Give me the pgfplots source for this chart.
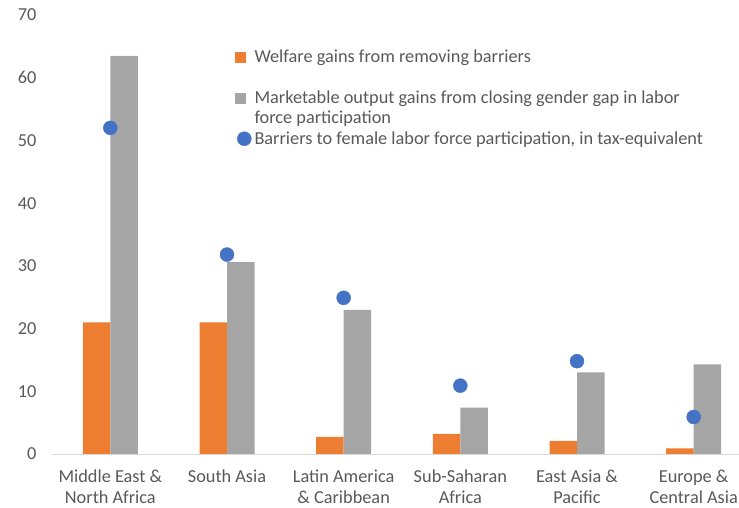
\documentclass[border=0pt]{standalone}
\usepackage{fontspec}
\setmainfont{Carlito}
\usepackage{pgfplots}
\pgfplotsset{compat=1.18}
\definecolor{cOrange}{HTML}{ED7D31}
\definecolor{cGrey}{HTML}{A5A5A5}
\definecolor{cBlue}{HTML}{4472C4}
\definecolor{cText}{HTML}{595959}
\definecolor{cAxis}{HTML}{D9D9D9}
\begin{document}
\begin{tikzpicture}
\useasboundingbox (0pt,0pt) rectangle (739pt,508pt);
\begin{scope}
\clip (0pt,0pt) rectangle (739pt,508pt);
\begin{axis}[
  at={(52pt,54pt)}, anchor=south west,
  scale only axis, width=700pt, height=439pt,
  xmin=-0.5, xmax=5.5, ymin=0, ymax=70,
  axis lines*=left,
  axis line style={-},
  y axis line style={draw=none},
  x axis line style={draw=cAxis, line width=0.8pt},
  major tick length=0pt,
  ytick={0,10,...,70},
  xtick={0,...,5},
  xticklabels={{Middle East \&\\North Africa},{South Asia},{Latin America\\\& Caribbean},{Sub-Saharan\\Africa},{East Asia \&\\Pacific},{Europe \&\\Central Asia}},
  tick label style={font=\fontsize{18.3}{21}\selectfont, text=cText},
  xticklabel style={align=center, yshift=-12pt},
  yticklabel style={xshift=-12pt},
  /pgf/number format/assume math mode=true,
  clip=false,
  legend style={at={(axis description cs:0.257,0.927)}, anchor=north west, draw=none, fill=none,
    font=\fontsize{18.3}{21}\selectfont, text=cText, row sep=3.5pt, column sep=3pt,
    nodes={inner sep=0pt, text height=13pt, text depth=4pt}},
  legend cell align=left,
]
\addplot[ybar, bar width=27.5pt, bar shift=-13.75pt, fill=cOrange, draw=none, forget plot]
  coordinates {(0,21.0) (1,21.0) (2,2.75) (3,3.2) (4,2.1) (5,0.9)};
\addplot[ybar, bar width=27.5pt, bar shift=13.75pt, fill=cGrey, draw=none, forget plot]
  coordinates {(0,63.5) (1,30.6) (2,23.0) (3,7.4) (4,13.0) (5,14.3)};
\addplot[only marks, mark=*, mark size=7pt, color=cBlue, forget plot]
  coordinates {(0,52) (1,31.8) (2,24.9) (3,10.9) (4,14.8) (5,5.9)};
\addlegendimage{legend image code/.code={\fill[cOrange] (-10pt,-4pt) rectangle (0pt,6pt);}}
\addlegendentry{Welfare gains from removing barriers}
\addlegendimage{empty legend}
\addlegendentry{}
\addlegendimage{legend image code/.code={\fill[cGrey] (-10pt,-4pt) rectangle (0pt,6pt);}}
\addlegendentry{Marketable output gains from closing gender gap in labor}
\addlegendimage{empty legend}
\addlegendentry{force participation}
\addlegendimage{legend image code/.code={\fill[cBlue] (-1pt,1pt) circle (7pt);}}
\addlegendentry{Barriers to female labor force participation, in tax-equivalent}
\end{axis}
\end{scope}
\end{tikzpicture}
\end{document}
